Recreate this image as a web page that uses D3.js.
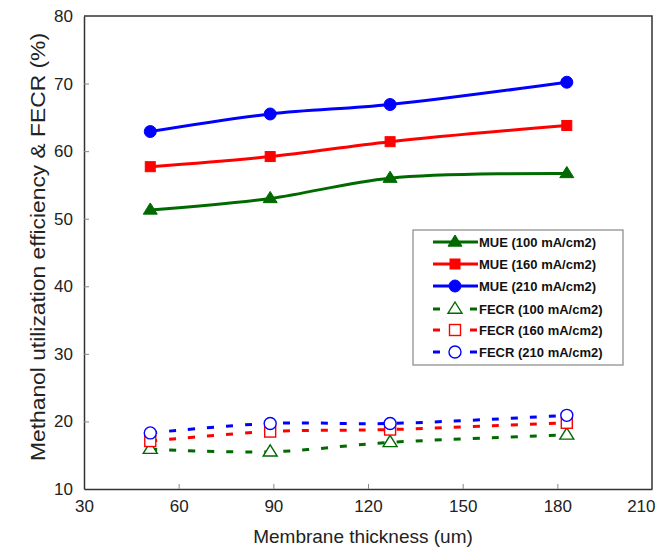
<!DOCTYPE html>
<html>
<head>
<meta charset="utf-8">
<script src="https://cdn.jsdelivr.net/npm/d3@7"></script>
<style>
  html, body { margin: 0; padding: 0; background: #fff; }
  svg { display: block; font-family: "Liberation Sans", Arial, sans-serif; }
</style>
</head>
<body>
<svg id="chart" width="656" height="547"></svg>
<script>
// Membrane thickness (um) for the four membranes
const thickness = [51, 89, 127, 183];

// Methanol utilization efficiency (%)
const mue100 = [51.3, 53.0, 56.0, 56.7];
const mue160 = [57.7, 59.2, 61.4, 63.8];
const mue210 = [62.9, 65.5, 66.9, 70.2];

// Faradaic efficiency of crossover (%)
const fecr100 = [15.9, 15.5, 16.9, 18.0];
const fecr160 = [17.1, 18.5, 18.8, 19.8];
const fecr210 = [18.3, 19.7, 19.7, 20.9];

const xTicks = [30, 60, 90, 120, 150, 180, 210];
const yTicks = [10, 20, 30, 40, 50, 60, 70, 80];

const seriesNames = [
  "MUE (100 mA/cm2)", "MUE (160 mA/cm2)", "MUE (210 mA/cm2)",
  "FECR (100 mA/cm2)", "FECR (160 mA/cm2)", "FECR (210 mA/cm2)"
];

const GREEN = "#006a00", RED = "#ff0000", BLUE = "#0000ff";

const series = [
  { name: seriesNames[0], values: mue100, color: GREEN, shape: "triangle", filled: true,  dashed: false },
  { name: seriesNames[1], values: mue160, color: RED,   shape: "square",   filled: true,  dashed: false },
  { name: seriesNames[2], values: mue210, color: BLUE,  shape: "circle",   filled: true,  dashed: false },
  { name: seriesNames[3], values: fecr100, color: GREEN, shape: "triangle", filled: false, dashed: true },
  { name: seriesNames[4], values: fecr160, color: RED,   shape: "square",   filled: false, dashed: true },
  { name: seriesNames[5], values: fecr210, color: BLUE,  shape: "circle",   filled: false, dashed: true }
];

const svg = d3.select("#chart");
const margin = { left: 84, top: 16, right: 4, bottom: 58 };
const W = 656, H = 547;
const x = d3.scaleLinear().domain([30, 210]).range([margin.left, W - margin.right]);
const y = d3.scaleLinear().domain([10, 80]).range([H - margin.bottom, margin.top]);

const axisColor = "#333";

// Axes with inward ticks
const xAxis = svg.append("g")
  .attr("transform", `translate(0,${y(10)})`)
  .call(d3.axisBottom(x).tickValues(xTicks).tickSizeInner(-5).tickSizeOuter(0).tickPadding(11));
const yAxis = svg.append("g")
  .attr("transform", `translate(${x(30)},0)`)
  .call(d3.axisLeft(y).tickValues(yTicks).tickSizeInner(-5).tickSizeOuter(0).tickPadding(11));

[xAxis, yAxis].forEach(g => {
  g.select(".domain").attr("stroke", axisColor).attr("stroke-width", 1.5);
  g.selectAll(".tick line").attr("stroke", "#888").attr("stroke-width", 1);
  g.selectAll(".tick text").attr("fill", "#222").style("font-size", "17px")
    .style("font-family", "'Liberation Sans', Arial, sans-serif");
});
// drop the inner tick at the frame edges
xAxis.selectAll(".tick line").filter(d => d === 30 || d === 210).remove();
yAxis.selectAll(".tick line").filter(d => d === 10 || d === 80).remove();
// keep the last x label inside the page
xAxis.selectAll(".tick text").filter(d => d === 210)
  .attr("text-anchor", "end").attr("x", 3);

// Frame top and right
svg.append("path")
  .attr("d", `M${x(30)},${y(80)}H${x(210)}V${y(10)}`)
  .attr("fill", "none").attr("stroke", axisColor).attr("stroke-width", 1.5);

// Axis titles
svg.append("text")
  .attr("x", (x(30) + x(210)) / 2 - 5).attr("y", 543)
  .attr("text-anchor", "middle").attr("fill", "#222")
  .style("font-size", "19px")
  .text("Membrane thickness (um)");
svg.append("text")
  .attr("transform", `translate(45,247) rotate(-90)`)
  .attr("text-anchor", "middle").attr("fill", "#222")
  .style("font-size", "19.5px")
  .attr("textLength", 428).attr("lengthAdjust", "spacingAndGlyphs")
  .text("Methanol utilization efficiency & FECR (%)");

// Marker drawing
function drawMarker(g, s, cx, cy) {
  const fill = s.filled ? s.color : "#fff";
  const sw = s.filled ? 1 : 1.4;
  if (s.shape === "circle") {
    g.append("circle").attr("cx", cx).attr("cy", cy).attr("r", 6)
      .attr("fill", fill).attr("stroke", s.color).attr("stroke-width", sw);
  } else if (s.shape === "square") {
    const h = s.filled ? 5 : 5.5;
    g.append("rect").attr("x", cx - h).attr("y", cy - h).attr("width", 2 * h).attr("height", 2 * h)
      .attr("fill", fill).attr("stroke", s.color).attr("stroke-width", sw);
  } else {
    const r = 7;
    g.append("path")
      .attr("d", `M${cx},${cy - r}L${cx + r},${cy + r * 0.6}L${cx - r},${cy + r * 0.6}Z`)
      .attr("fill", fill).attr("stroke", s.color).attr("stroke-width", sw);
  }
}

const line = d3.line()
  .x((d, i) => x(thickness[i]))
  .y(d => y(d))
  .curve(d3.curveCatmullRom.alpha(0.5));

const plot = svg.append("g");
series.forEach(s => {
  plot.append("path")
    .attr("d", line(s.values))
    .attr("fill", "none")
    .attr("stroke", s.color)
    .attr("stroke-width", 3)
    .attr("stroke-dasharray", s.dashed ? "7,12" : null);
});
series.forEach(s => {
  const g = plot.append("g");
  s.values.forEach((v, i) => drawMarker(g, s, x(thickness[i]), y(v)));
});

// Legend
const lg = svg.append("g");
lg.append("rect")
  .attr("x", 413).attr("y", 230).attr("width", 210).attr("height", 135)
  .attr("fill", "#fff").attr("stroke", "#888").attr("stroke-width", 1.2);
const rowY = [242, 264, 286, 309, 330, 352];
series.forEach((s, i) => {
  const yy = rowY[i];
  if (s.dashed) {
    lg.append("line").attr("x1", 433).attr("x2", 440).attr("y1", yy).attr("y2", yy)
      .attr("stroke", s.color).attr("stroke-width", 3);
    lg.append("line").attr("x1", 470).attr("x2", 477).attr("y1", yy).attr("y2", yy)
      .attr("stroke", s.color).attr("stroke-width", 3);
  } else {
    lg.append("line").attr("x1", 433).attr("x2", 478).attr("y1", yy).attr("y2", yy)
      .attr("stroke", s.color).attr("stroke-width", 3);
  }
  drawMarker(lg, s, 455, yy);
  lg.append("text")
    .attr("x", 479).attr("y", yy + 4.5)
    .attr("fill", "#111")
    .style("font-size", "13px").style("font-weight", "bold")
    .text(s.name);
});
</script>
</body>
</html>
